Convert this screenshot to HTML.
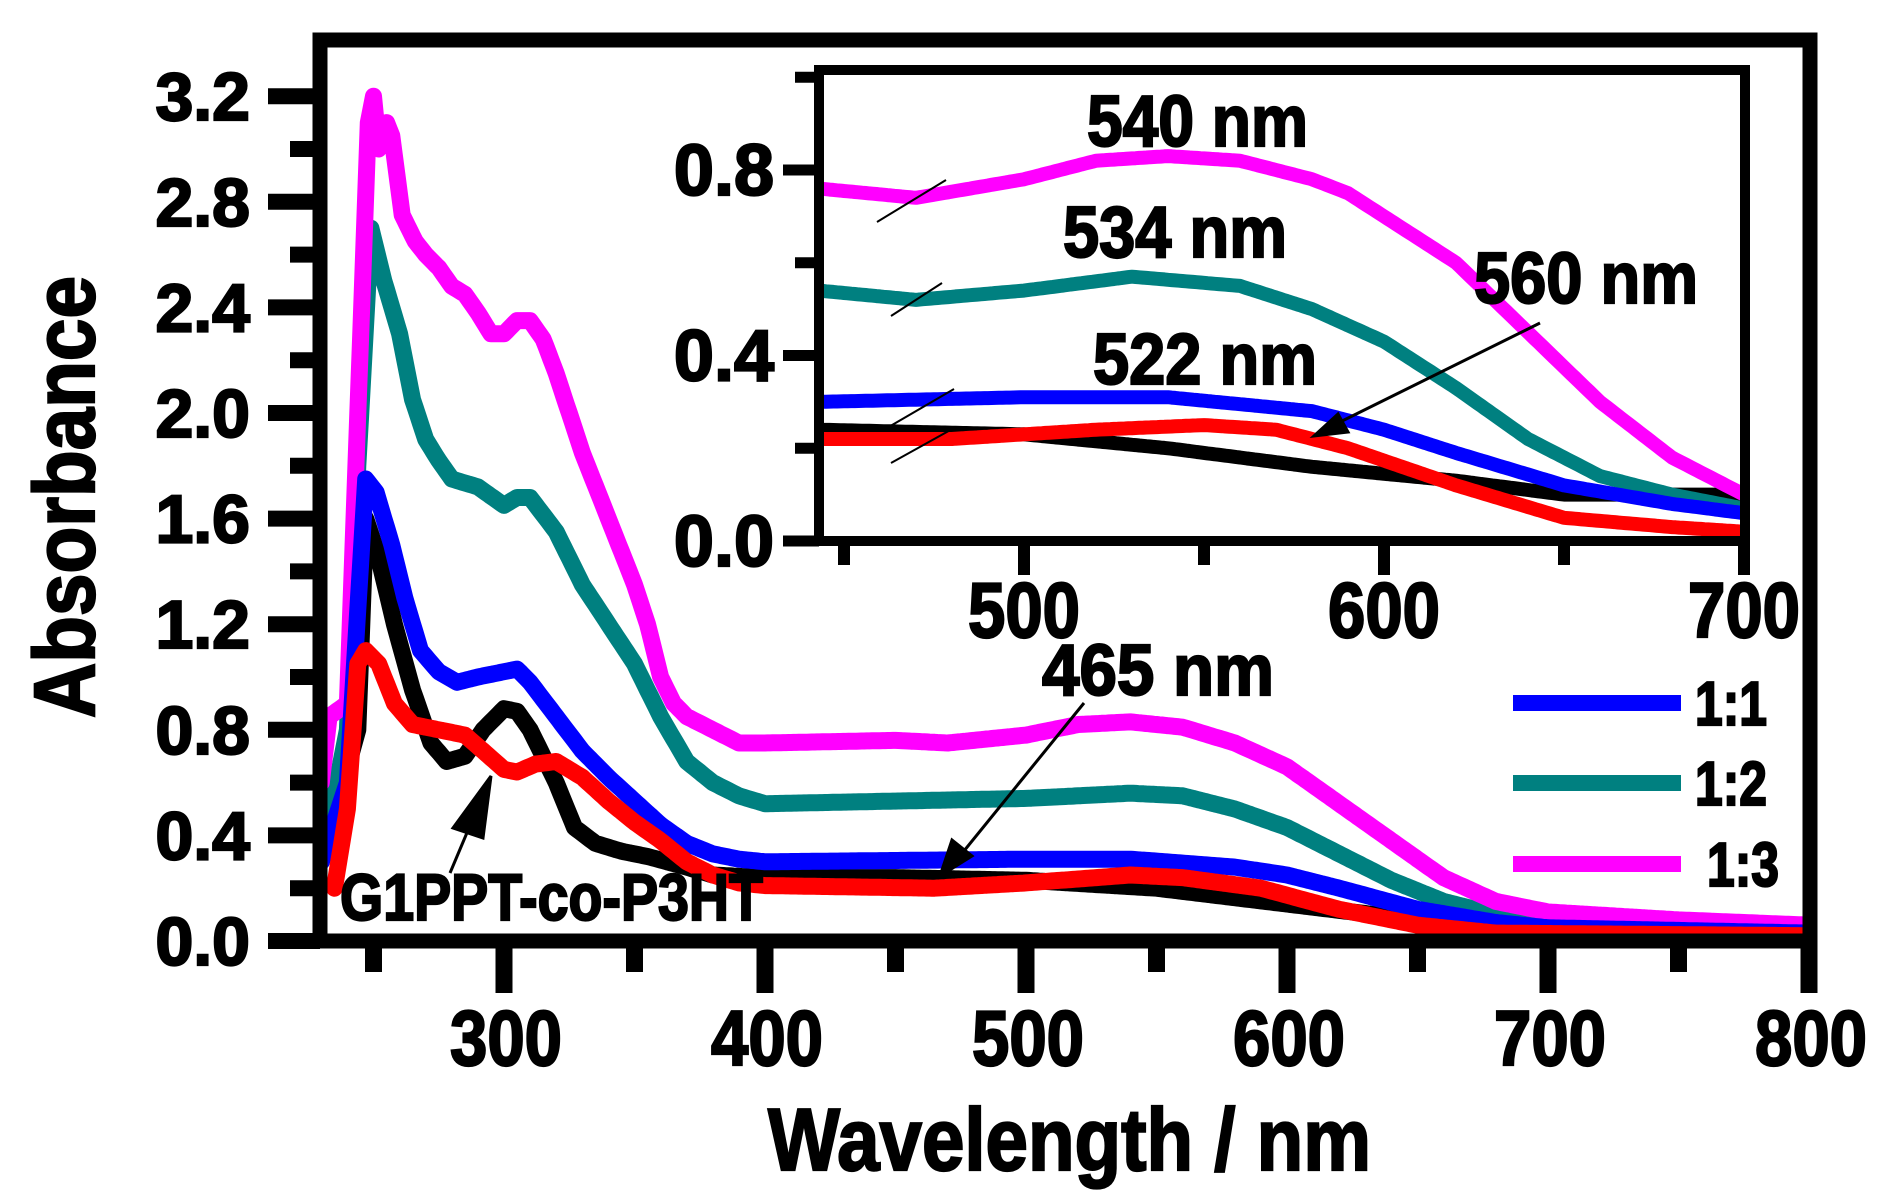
<!DOCTYPE html>
<html><head><meta charset="utf-8"><style>
html,body{margin:0;padding:0;background:#fff;}
svg{display:block;}
text{font-family:"Liberation Sans",Arial,sans-serif;font-weight:bold;fill:#000;stroke:#000;stroke-width:2.2px;}
</style></head><body>
<svg id="s" width="1896" height="1204" viewBox="0 0 1896 1204" xmlns="http://www.w3.org/2000/svg">
<defs>
<clipPath id="cm"><rect x="327" y="47" width="1476" height="887"/></clipPath>
<clipPath id="ci"><rect x="824" y="75" width="916" height="461"/></clipPath>
</defs>
<g id="main" clip-path="url(#cm)" fill="none" stroke-linejoin="round" stroke-linecap="round"></g>
<rect x="320" y="40" width="1490" height="901" fill="none" stroke="#000" stroke-width="15"/>
<g id="axes" stroke="#000"></g>
<!-- inset -->
<rect x="819" y="70" width="926" height="471" fill="#fff"/>
<g id="ins" clip-path="url(#ci)" fill="none" stroke-linejoin="round" stroke-linecap="round"></g>
<rect x="819" y="70" width="926" height="471" fill="none" stroke="#000" stroke-width="10"/>
<g id="iaxes" stroke="#000"></g>
<g id="txt"></g>

<text x="0" y="0" font-size="86" textLength="442" lengthAdjust="spacingAndGlyphs" transform="translate(94,718) rotate(-90)">Absorbance</text>
<text x="768" y="1170" font-size="88" textLength="603" lengthAdjust="spacingAndGlyphs">Wavelength / nm</text>

<text x="1087" y="146" font-size="72" textLength="221" lengthAdjust="spacingAndGlyphs">540 nm</text>
<text x="1063" y="257" font-size="72" textLength="224" lengthAdjust="spacingAndGlyphs">534 nm</text>
<text x="1474" y="303" font-size="72" textLength="224" lengthAdjust="spacingAndGlyphs">560 nm</text>
<text x="1093" y="384" font-size="72" textLength="224" lengthAdjust="spacingAndGlyphs">522 nm</text>
<text x="1042" y="695" font-size="72" textLength="232" lengthAdjust="spacingAndGlyphs">465 nm</text>
<text x="340" y="920" font-size="66" textLength="423" lengthAdjust="spacingAndGlyphs">G1PPT-co-P3HT</text>

<g stroke="#000" stroke-width="3" fill="#000">
<line x1="450" y1="873" x2="485" y2="790"/>
<polygon points="491,776 483,838 453,828"/>
<line x1="1084" y1="703" x2="955" y2="862"/>
<polygon points="940,876 952,840 972,856"/>
<line x1="1540" y1="323" x2="1330" y2="427"/>
<polygon points="1314,436 1338,414 1348,432"/>
<line x1="877" y1="222" x2="946" y2="180" stroke-width="2"/>
<line x1="891" y1="316" x2="942" y2="283" stroke-width="2"/>
<line x1="887" y1="428" x2="954" y2="389" stroke-width="2"/>
<line x1="891" y1="463" x2="954" y2="428" stroke-width="2"/>
</g>

<g stroke-width="16">
<line x1="1513" y1="703" x2="1681" y2="703" stroke="#0000ff"/>
<line x1="1513" y1="783" x2="1681" y2="783" stroke="#008080"/>
<line x1="1513" y1="864" x2="1681" y2="864" stroke="#ff00ff"/>
</g>
<text x="1695" y="725" font-size="62" textLength="72" lengthAdjust="spacingAndGlyphs">1:1</text>
<text x="1695" y="805" font-size="62" textLength="72" lengthAdjust="spacingAndGlyphs">1:2</text>
<text x="1707" y="886" font-size="62" textLength="72" lengthAdjust="spacingAndGlyphs">1:3</text>
</svg>
<script>
var NS="http://www.w3.org/2000/svg";
function el(p,t,a,txt){var e=document.createElementNS(NS,t);for(var k in a)e.setAttribute(k,a[k]);if(txt!==undefined)e.textContent=txt;p.appendChild(e);return e;}
function interp(d,w){for(var i=0;i<d.length-1;i++){if(w>=d[i][0]&&w<=d[i+1][0]){var t=(w-d[i][0])/(d[i+1][0]-d[i][0]);return d[i][1]+t*(d[i+1][1]-d[i][1]);}}return d[d.length-1][1];}
function path(d,X,Y){var s="";for(var w=d[0][0];w<=d[d.length-1][0];w+=1){var a=interp(d,w);s+=(s?"L":"M")+X(w).toFixed(1)+","+Y(a).toFixed(1);}return s;}
var mag=[[230,0.6],[233,0.85],[240,0.9],[244,2.0],[248,3.1],[250,3.2],[252,3.0],[255,3.1],[257,3.05],[261,2.75],[266,2.65],[270,2.6],[275,2.55],[280,2.48],[285,2.45],[290,2.38],[295,2.3],[300,2.3],[305,2.35],[310,2.35],[315,2.28],[320,2.15],[325,2.0],[330,1.85],[340,1.6],[350,1.35],[355,1.2],[360,1.0],[365,0.9],[370,0.85],[380,0.8],[390,0.75],[400,0.75],[450,0.76],[470,0.75],[500,0.78],[520,0.82],[540,0.83],[560,0.81],[580,0.75],[600,0.66],[620,0.52],[640,0.38],[660,0.24],[680,0.15],[700,0.11],[750,0.08],[800,0.06]];
var teal=[[230,0.3],[240,0.8],[244,1.8],[249,2.7],[254,2.5],[260,2.3],[265,2.05],[270,1.9],[275,1.82],[280,1.75],[290,1.72],[300,1.65],[305,1.68],[310,1.68],[320,1.55],[330,1.35],[340,1.2],[350,1.05],[360,0.85],[370,0.68],[380,0.6],[390,0.55],[400,0.52],[450,0.53],[500,0.54],[540,0.56],[560,0.55],[580,0.5],[600,0.43],[620,0.33],[640,0.23],[660,0.15],[680,0.1],[700,0.08],[800,0.05]];
var blue=[[230,0.3],[240,0.6],[247,1.75],[251,1.7],[257,1.5],[262,1.3],[268,1.1],[275,1.02],[282,0.98],[290,1.0],[300,1.02],[305,1.03],[310,0.98],[320,0.85],[330,0.72],[340,0.62],[350,0.53],[360,0.44],[370,0.37],[380,0.33],[390,0.31],[400,0.3],[500,0.31],[540,0.31],[580,0.28],[600,0.25],[620,0.2],[650,0.12],[680,0.07],[700,0.05],[800,0.03]];
var blk=[[230,0.3],[244,0.8],[247,1.6],[252,1.45],[258,1.2],[265,0.95],[272,0.75],[278,0.68],[285,0.7],[292,0.8],[300,0.88],[305,0.87],[310,0.8],[320,0.6],[327,0.43],[335,0.37],[345,0.34],[355,0.32],[370,0.28],[380,0.25],[400,0.24],[450,0.24],[500,0.23],[550,0.2],[600,0.14],[650,0.08],[700,0.04],[800,0.02]];
var red=[[235,0.2],[240,0.5],[244,1.05],[247,1.1],[252,1.05],[258,0.9],[265,0.82],[275,0.8],[285,0.78],[292,0.72],[300,0.65],[305,0.64],[312,0.67],[320,0.68],[330,0.62],[340,0.53],[350,0.45],[360,0.38],[370,0.3],[380,0.25],[390,0.22],[400,0.21],[465,0.2],[500,0.22],[540,0.25],[560,0.24],[590,0.2],[620,0.12],[650,0.06],[680,0.03],[800,0.02]];
var X=function(w){return 504+(w-300)*2.61;},Y=function(a){return 941-a*264;};
var m=document.getElementById("main");
[[blk,"#000"],[teal,"#008080"],[mag,"#ff00ff"],[blue,"#0000ff"],[red,"#ff0000"]].forEach(function(c){el(m,"path",{d:path(c[0],X,Y),stroke:c[1],"stroke-width":17});});
var ax=document.getElementById("axes"),tx=document.getElementById("txt");
for(var i=0;i<=16;i++){var y=941-i*52.8;var maj=i%2==0;el(ax,"line",{x1:maj?268:290,x2:320,y1:y,y2:y,"stroke-width":16});if(maj)el(tx,"text",{x:250,y:y+24,"font-size":68,"text-anchor":"end"},(i*0.2).toFixed(1));}
for(var w=250;w<=800;w+=50){var x=X(w);var maj=w%100==0;el(ax,"line",{x1:x,x2:x,y1:941,y2:maj?993:972,"stroke-width":17});if(maj)el(tx,"text",{x:x+2,y:1065,"font-size":78,"text-anchor":"middle",textLength:112,lengthAdjust:"spacingAndGlyphs"},w);}
var Xi=function(w){return 1024+(w-500)*3.6;},Yi=function(a){return 541-a*463.75;};
var mi=[[443,0.76],[470,0.74],[500,0.78],[520,0.82],[540,0.83],[560,0.82],[580,0.78],[590,0.75],[600,0.7],[620,0.6],[640,0.45],[660,0.3],[680,0.18],[700,0.1]];
var ti=[[443,0.54],[470,0.52],[500,0.54],[530,0.57],[560,0.55],[580,0.5],[600,0.43],[620,0.33],[640,0.22],[660,0.14],[680,0.1],[700,0.07]];
var bi=[[443,0.3],[500,0.31],[540,0.31],[580,0.28],[600,0.24],[620,0.19],[650,0.12],[680,0.08],[700,0.06]];
var ki=[[443,0.24],[500,0.23],[540,0.2],[580,0.16],[620,0.13],[650,0.1],[680,0.1],[700,0.1]];
var ri=[[443,0.22],[480,0.22],[520,0.24],[550,0.25],[570,0.24],[590,0.2],[620,0.12],[650,0.05],[680,0.03],[700,0.02]];
var ins=document.getElementById("ins");
[[ki,"#000"],[ti,"#008080"],[mi,"#ff00ff"],[bi,"#0000ff"],[ri,"#ff0000"]].forEach(function(c){el(ins,"path",{d:path(c[0],Xi,Yi),stroke:c[1],"stroke-width":14});});
var ia=document.getElementById("iaxes");
for(var i=0;i<=5;i++){var y=Yi(i*0.2);var maj=i%2==0;el(ia,"line",{x1:maj?783:795,x2:819,y1:y,y2:y,"stroke-width":11});if(maj)el(tx,"text",{x:774,y:y+25,"font-size":72,"text-anchor":"end"},(i*0.2).toFixed(1));}
for(var w=450;w<=700;w+=50){var x=Xi(w);var maj=w%100==0;el(ia,"line",{x1:x,x2:x,y1:541,y2:maj?575:565,"stroke-width":12});if(maj)el(tx,"text",{x:x,y:637,"font-size":78,"text-anchor":"middle",textLength:112,lengthAdjust:"spacingAndGlyphs"},w);}
</script>
</body></html>
